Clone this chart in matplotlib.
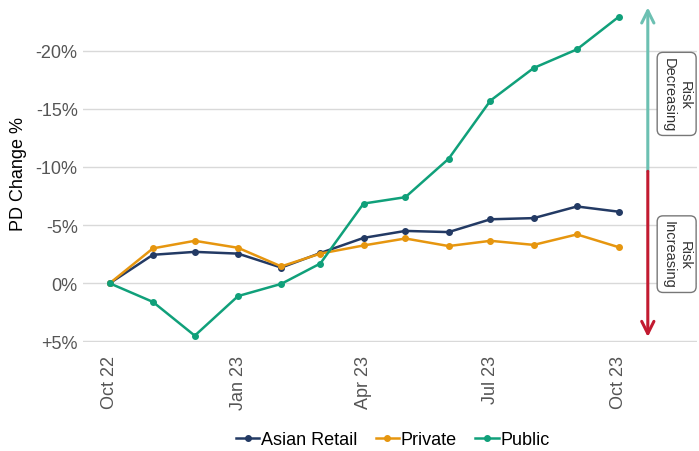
import pandas as pd
import matplotlib.pyplot as plt
from matplotlib.ticker import FuncFormatter

plt.rcParams['font.family'] = ['Liberation Sans', 'DejaVu Sans']

# monthly PD change (%), Oct 22 .. Oct 23
months = pd.date_range("2022-10-01", "2023-10-01", freq="MS")
asian_retail = [0, -2.45, -2.7, -2.55, -1.35, -2.6, -3.9, -4.5, -4.4, -5.5, -5.6, -6.6, -6.15]
private = [0, -3.0, -3.65, -3.05, -1.45, -2.55, -3.25, -3.85, -3.2, -3.65, -3.3, -4.2, -3.1]
public = [0, 1.6, 4.5, 1.1, 0.05, -1.7, -6.85, -7.4, -10.7, -15.7, -18.5, -20.1, -22.9]

series = [("Asian Retail", asian_retail, "#233a64"),
          ("Private", private, "#e6960f"),
          ("Public", public, "#10a07a")]

yticks = [-20, -15, -10, -5, 0, 5]
xticks = pd.to_datetime(["2022-10-01", "2023-01-01", "2023-04-01", "2023-07-01", "2023-10-01"])
xtick_labels = ["Oct 22", "Jan 23", "Apr 23", "Jul 23", "Oct 23"]

fig = plt.figure(figsize=(6.99, 4.52), dpi=100)
ax = fig.add_axes([0.119, 0.241, 0.878, 0.748])

for name, vals, col in series:
    ax.plot(months, vals, color=col, lw=1.8, marker="o", ms=4, label=name)

ax.set_ylim(5.05, -24)
ax.set_yticks(yticks)
ax.yaxis.set_major_formatter(FuncFormatter(lambda v, p: f"+{v:.0f}%" if v > 0 else f"{v:.0f}%"))
ax.set_xlim(pd.Timestamp("2022-09-12"), pd.Timestamp("2023-11-26"))
ax.set_xticks(xticks)
ax.set_xticklabels(xtick_labels, rotation=90)
ax.tick_params(length=0, labelsize=13, labelcolor="#555555", pad=4)
ax.tick_params(axis="x", pad=9)
ax.grid(axis="y", color="#d9d9d9", lw=1)
ax.set_axisbelow(True)
for s in ax.spines.values():
    s.set_visible(False)
ax.set_ylabel("PD Change %", fontsize=13, labelpad=6)

# risk direction arrow on the right
ax.annotate("", xy=(0.92, 0.99), xytext=(0.92, 0.505), xycoords="axes fraction",
            arrowprops=dict(arrowstyle="->", color="#6cc0b2", lw=2.2, mutation_scale=22,
                            shrinkA=0, shrinkB=0))
ax.annotate("", xy=(0.92, 0.015), xytext=(0.92, 0.505), xycoords="axes fraction",
            arrowprops=dict(arrowstyle="->", color="#c21a30", lw=2.2, mutation_scale=22,
                            shrinkA=0, shrinkB=0))
box = dict(boxstyle="round,pad=0.3,rounding_size=0.4", fc="white", ec="#777777", lw=1)
ax.text(0.967, 0.734, "Risk\nDecreasing", transform=ax.transAxes, rotation=270,
        ha="center", va="center", fontsize=10.5, color="#333333", bbox=box, multialignment="center")
ax.text(0.967, 0.26, "Risk\nIncreasing", transform=ax.transAxes, rotation=270,
        ha="center", va="center", fontsize=10.5, color="#333333", bbox=box, multialignment="center")

fig.legend(loc="lower center", bbox_to_anchor=(0.562, -0.03), ncol=3, frameon=False,
           fontsize=13, handlelength=1.3, handletextpad=0.1, columnspacing=1.0)

fig.savefig("out.png", dpi=100)
